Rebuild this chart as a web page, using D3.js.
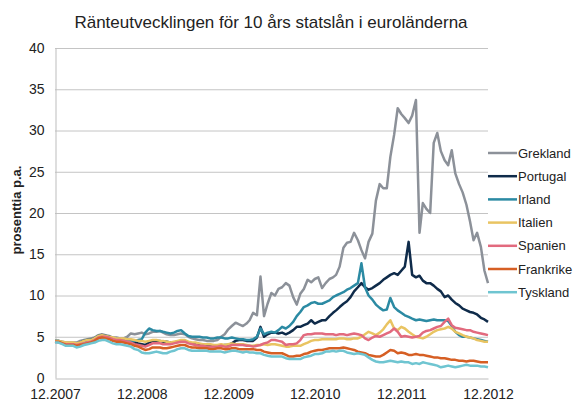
<!DOCTYPE html>
<html>
<head>
<meta charset="utf-8">
<script src="https://cdn.jsdelivr.net/npm/d3@7"></script>
<style>
  body { margin: 0; background: #fff; }
  svg { font-family: "Liberation Sans", Arial, sans-serif; }
</style>
</head>
<body>
<div id="chart"></div>
<script>
// half-month observations from 1.12.2007 to 1.12.2012 (1st and 16th of each month)
const dates = d3.range(121).map(i => new Date(2007, 11 + Math.floor(i / 2), i % 2 ? 16 : 1));

const countries = ["Grekland", "Portugal", "Irland", "Italien", "Spanien", "Frankrike", "Tyskland"];
const colors = ["#8c9199", "#0f2b4a", "#2b8aa3", "#e9c462", "#e26a7e", "#d65f24", "#6fc5d1"];

const tickYears = ["12.2007", "12.2008", "12.2009", "12.2010", "12.2011", "12.2012"];
const yTicks = [0, 5, 10, 15, 20, 25, 30, 35, 40];

const grekland = [
  4.5, 4.5, 4.4, 4.3, 4.3, 4.3, 4.3, 4.5, 4.6, 4.7, 4.8, 4.9, 5.2, 5.3, 5.2, 5.1, 4.9, 4.9, 4.8, 4.8,
  5.0, 5.4, 5.3, 5.4, 5.5, 5.3, 5.4, 5.6, 5.6, 5.7, 5.5, 5.3, 5.2, 5.2, 5.3, 5.4, 5.3, 5.0, 4.8, 4.7,
  4.6, 4.6, 4.5, 4.5, 4.5, 4.6, 5.0, 5.3, 5.9, 6.3, 6.7, 6.5, 6.3, 6.6, 7.0, 7.9, 7.6, 12.3, 7.5, 9.0,
  10.3, 10.0, 10.8, 11.0, 11.5, 11.2, 9.8, 8.9, 10.2, 10.8, 11.9, 11.6, 12.0, 12.2, 10.9, 11.5, 12.0, 12.2, 12.5, 13.5,
  15.8, 16.4, 16.5, 17.6, 16.7, 15.5, 14.5, 16.5, 17.5, 21.5, 23.5, 23.0, 23.0, 26.8, 29.5, 32.7, 32.0, 31.5, 30.9, 31.8,
  33.7, 17.6, 21.2, 20.5, 20.0, 28.5, 29.7, 27.5, 26.4, 25.8, 27.6, 24.8, 23.5, 22.5, 21.0, 19.0, 16.7, 17.6, 15.9, 13.0,
  11.5
];
const portugal = [
  4.5, 4.5, 4.3, 4.2, 4.2, 4.2, 4.1, 4.3, 4.5, 4.6, 4.6, 4.8, 5.1, 5.2, 5.1, 5.0, 4.8, 4.7, 4.7, 4.6,
  4.5, 4.4, 4.3, 4.2, 4.1, 4.0, 4.3, 4.5, 4.5, 4.5, 4.4, 4.4, 4.3, 4.3, 4.4, 4.5, 4.5, 4.3, 4.2, 4.2,
  4.1, 4.0, 4.0, 4.0, 3.9, 3.9, 3.9, 4.0, 4.0, 4.2, 4.5, 4.6, 4.6, 4.5, 4.5, 4.5, 4.9, 6.2, 5.0, 5.3,
  5.5, 5.5, 5.4, 5.5, 5.3, 5.5, 5.8, 6.2, 6.2, 6.4, 6.6, 7.0, 6.6, 6.8, 7.0, 7.0, 7.5, 7.9, 8.2, 8.6,
  9.0, 9.3, 9.8, 10.5, 11.0, 11.5, 11.0, 10.7, 10.9, 11.2, 11.5, 11.9, 12.2, 12.5, 12.7, 12.5, 13.0, 13.5, 16.5, 12.5,
  12.2, 12.4, 11.8, 11.5, 11.5, 11.2, 10.8, 10.5, 9.8, 10.0, 9.5, 9.1, 8.8, 8.4, 8.2, 8.0, 7.9, 7.7, 7.3, 7.1,
  6.8
];
const irland = [
  4.5, 4.5, 4.3, 4.2, 4.2, 4.2, 4.1, 4.3, 4.5, 4.6, 4.6, 4.8, 5.1, 5.2, 5.1, 5.0, 4.8, 4.7, 4.7, 4.6,
  4.6, 4.5, 4.5, 4.6, 4.7, 5.5, 6.0, 5.8, 5.7, 5.7, 5.6, 5.5, 5.4, 5.5, 5.7, 5.8, 5.4, 5.1, 5.0, 5.0,
  5.0, 4.9, 4.9, 4.8, 4.8, 4.9, 4.9, 4.8, 4.8, 4.9, 4.8, 4.7, 4.7, 4.6, 4.6, 4.7, 5.0, 6.0, 5.3, 5.5,
  5.6, 5.5, 5.8, 6.2, 6.0, 6.3, 6.8, 7.5, 8.0, 8.6, 8.8, 9.1, 9.2, 9.0, 9.0, 9.2, 9.4, 9.8, 10.0, 10.2,
  10.4, 10.7, 10.9, 11.2, 11.5, 13.9, 11.0, 10.0, 9.5, 8.9, 8.5, 8.2, 8.3, 9.7, 8.6, 8.2, 7.9, 7.6, 7.4, 7.2,
  7.0, 7.1, 7.0, 6.9, 7.0, 7.1, 7.0, 7.0, 7.0, 6.9, 6.3, 5.6, 5.2, 5.0, 5.0, 4.9, 4.8, 4.7, 4.6, 4.5,
  4.4
];
const italien = [
  4.5, 4.5, 4.4, 4.3, 4.3, 4.3, 4.2, 4.3, 4.5, 4.6, 4.6, 4.8, 5.1, 5.2, 5.1, 5.0, 4.9, 4.8, 4.8, 4.8,
  4.7, 4.7, 4.6, 4.5, 4.5, 4.4, 4.5, 4.6, 4.6, 4.5, 4.5, 4.4, 4.3, 4.4, 4.5, 4.6, 4.6, 4.4, 4.3, 4.3,
  4.2, 4.1, 4.1, 4.1, 4.0, 4.0, 4.1, 4.0, 4.1, 4.2, 4.1, 4.1, 4.1, 4.0, 3.9, 3.9, 4.0, 4.0, 4.1, 4.0,
  4.1, 4.1, 4.0, 3.9, 3.8, 3.8, 3.9, 3.9, 3.9, 4.1, 4.3, 4.5, 4.6, 4.6, 4.7, 4.7, 4.7, 4.7, 4.7, 4.8,
  4.8, 4.7, 4.7, 4.8, 4.8, 5.0, 5.3, 5.6, 5.4, 5.2, 5.5, 5.9, 6.5, 7.0, 6.0, 5.8, 6.2, 6.0, 5.6, 5.3,
  5.0, 4.9, 4.8, 5.0, 5.3, 5.6, 5.8, 5.9, 6.0, 6.2, 6.0, 5.6, 5.4, 5.2, 5.0, 4.9, 4.8, 4.6, 4.5, 4.4,
  4.4
];
const spanien = [
  4.4, 4.3, 4.2, 4.1, 4.1, 4.1, 4.0, 4.1, 4.2, 4.3, 4.4, 4.6, 4.9, 5.0, 5.0, 4.9, 4.7, 4.6, 4.6, 4.5,
  4.4, 4.3, 4.1, 4.0, 3.9, 3.8, 4.0, 4.2, 4.2, 4.2, 4.1, 4.1, 4.1, 4.2, 4.3, 4.4, 4.4, 4.2, 4.1, 4.0,
  3.9, 3.9, 3.8, 3.8, 3.8, 3.8, 3.9, 3.8, 3.8, 4.0, 4.0, 4.0, 4.0, 3.9, 3.9, 3.8, 3.9, 4.0, 4.2, 4.3,
  4.6, 4.6, 4.5, 4.4, 4.0, 4.1, 4.1, 4.2, 4.6, 5.2, 5.3, 5.3, 5.4, 5.4, 5.4, 5.3, 5.3, 5.3, 5.2, 5.3,
  5.3, 5.2, 5.3, 5.4, 5.3, 5.2, 4.8, 4.6, 4.9, 5.1, 5.0, 5.2, 5.4, 5.6, 6.0, 5.6, 5.0, 5.1, 5.0, 4.9,
  5.0, 5.1, 5.5, 5.7, 5.8, 6.0, 6.2, 6.3, 6.8, 7.2, 6.4, 6.1, 6.0, 5.9, 5.8, 5.8, 5.6, 5.5, 5.4, 5.3,
  5.2
];
const frankrike = [
  4.4, 4.4, 4.2, 4.0, 4.0, 4.0, 3.9, 4.0, 4.1, 4.2, 4.3, 4.5, 4.8, 4.9, 4.8, 4.7, 4.5, 4.4, 4.4, 4.3,
  4.2, 4.1, 3.9, 3.8, 3.6, 3.4, 3.5, 3.7, 3.7, 3.7, 3.6, 3.6, 3.7, 3.8, 3.9, 4.0, 4.0, 3.8, 3.7, 3.7,
  3.6, 3.6, 3.6, 3.5, 3.5, 3.6, 3.6, 3.5, 3.5, 3.6, 3.6, 3.5, 3.5, 3.5, 3.5, 3.5, 3.4, 3.4, 3.2, 3.1,
  3.0, 3.0, 3.0, 3.0, 2.8, 2.6, 2.6, 2.7, 2.7, 2.9, 3.0, 3.2, 3.3, 3.4, 3.4, 3.5, 3.6, 3.6, 3.6, 3.6,
  3.7, 3.6, 3.5, 3.4, 3.2, 3.1, 3.0, 2.8, 2.7, 2.6, 2.6, 2.8, 3.1, 3.4, 3.3, 3.0, 3.1, 3.0, 2.8, 2.8,
  2.9, 2.8, 2.8, 2.7, 2.6, 2.5, 2.5, 2.4, 2.4, 2.3, 2.2, 2.2, 2.1, 2.1, 2.0, 2.1, 2.1, 2.0, 1.9, 1.9,
  1.9
];
const tyskland = [
  4.3, 4.3, 4.1, 3.9, 3.9, 3.9, 3.7, 3.8, 4.0, 4.1, 4.2, 4.3, 4.5, 4.6, 4.6, 4.4, 4.2, 4.1, 4.1, 4.0,
  3.9, 3.8, 3.5, 3.4, 3.1, 3.0, 3.0, 3.1, 3.2, 3.1, 3.0, 3.0, 3.2, 3.3, 3.5, 3.6, 3.6, 3.4, 3.3, 3.3,
  3.3, 3.3, 3.3, 3.2, 3.2, 3.2, 3.2, 3.1, 3.2, 3.3, 3.3, 3.2, 3.1, 3.2, 3.1, 3.1, 3.0, 3.0, 2.8, 2.7,
  2.6, 2.6, 2.6, 2.6, 2.4, 2.3, 2.3, 2.3, 2.3, 2.5, 2.6, 2.7, 2.9, 2.9, 3.0, 3.2, 3.2, 3.3, 3.2, 3.3,
  3.3, 3.1, 3.0, 2.9, 3.0, 2.9, 2.8, 2.5, 2.2, 2.0, 1.9, 1.9, 2.0, 2.1, 2.0, 1.9, 2.0, 1.9, 1.9, 1.7,
  1.8, 1.7, 1.9, 1.8, 1.7, 1.6, 1.5, 1.3, 1.4, 1.5, 1.4, 1.3, 1.4, 1.5, 1.6, 1.5, 1.5, 1.5, 1.4, 1.4,
  1.3
];

const seriesValues = [grekland, portugal, irland, italien, spanien, frankrike, tyskland];

const width = 575, height = 405;
const margin = {top: 48, right: 87, bottom: 27, left: 55};

const svg = d3.select("#chart").append("svg")
    .attr("width", width)
    .attr("height", height);

const x = d3.scaleTime()
    .domain([new Date(2007, 11, 1), new Date(2012, 11, 1)])
    .range([margin.left, width - margin.right]);
const y = d3.scaleLinear()
    .domain([0, 40])
    .range([height - margin.bottom, margin.top]);

// title
svg.append("text")
    .attr("x", 271)
    .attr("y", 28)
    .attr("text-anchor", "middle")
    .attr("font-size", 17)
    .attr("fill", "#222")
    .text("Ränteutvecklingen för 10 års statslån i euroländerna");

// horizontal grid lines
svg.append("g")
    .selectAll("line")
    .data(yTicks.filter(d => d > 0))
    .join("line")
    .attr("x1", margin.left)
    .attr("x2", width - margin.right)
    .attr("y1", d => y(d) + 0.5)
    .attr("y2", d => y(d) + 0.5)
    .attr("stroke", "#c4c4c4")
    .attr("stroke-width", 1);

// y axis
const yAxis = d3.axisLeft(y).tickValues(yTicks).tickSize(0).tickPadding(11);
svg.append("g")
    .attr("class", "axis axis--y")
    .attr("transform", "translate(" + (margin.left + 0.5) + ",0)")
    .call(yAxis)
    .call(g => g.select(".domain").attr("stroke", "#bdbdbd"))
    .call(g => g.selectAll("text").attr("font-size", 14).attr("fill", "#222")
      .attr("font-family", "Liberation Sans, Arial, sans-serif"));

// x axis
const xAxis = d3.axisBottom(x)
    .tickValues(tickYears.map((s, i) => new Date(2007 + i, 11, 1)))
    .tickFormat((d, i) => tickYears[i])
    .tickSize(0)
    .tickPadding(11);
svg.append("g")
    .attr("class", "axis axis--x")
    .attr("transform", "translate(0," + (y(0) + 0.5) + ")")
    .call(xAxis)
    .call(g => g.select(".domain").attr("stroke", "#bdbdbd"))
    .call(g => g.selectAll("text").attr("font-size", 14).attr("fill", "#222")
      .attr("font-family", "Liberation Sans, Arial, sans-serif"));

// y label
svg.append("text")
    .attr("transform", "translate(21," + 210 + ") rotate(-90)")
    .attr("text-anchor", "middle")
    .attr("font-size", 13)
    .attr("font-weight", "bold")
    .attr("fill", "#222")
    .text("prosenttia p.a.");

// lines, drawn in legend order so Tyskland ends up on top
const line = d3.line()
    .x((d, i) => x(dates[i]))
    .y(d => y(d))
    .curve(d3.curveLinear);

svg.append("g")
    .selectAll("path")
    .data(seriesValues)
    .join("path")
    .attr("fill", "none")
    .attr("stroke", (d, i) => colors[i])
    .attr("stroke-width", 2.5)
    .attr("stroke-linejoin", "round")
    .attr("d", line);

// legend
const legend = svg.append("g")
    .selectAll("g")
    .data(countries)
    .join("g")
    .attr("transform", (d, i) => "translate(488," + (153 + i * 23.2) + ")");
legend.append("line")
    .attr("x1", 0).attr("x2", 29)
    .attr("stroke", (d, i) => colors[i])
    .attr("stroke-width", 2.5);
legend.append("text")
    .attr("x", 30)
    .attr("dy", "0.35em")
    .attr("font-size", 13)
    .attr("fill", "#222")
    .text(d => d);
</script>
</body>
</html>
